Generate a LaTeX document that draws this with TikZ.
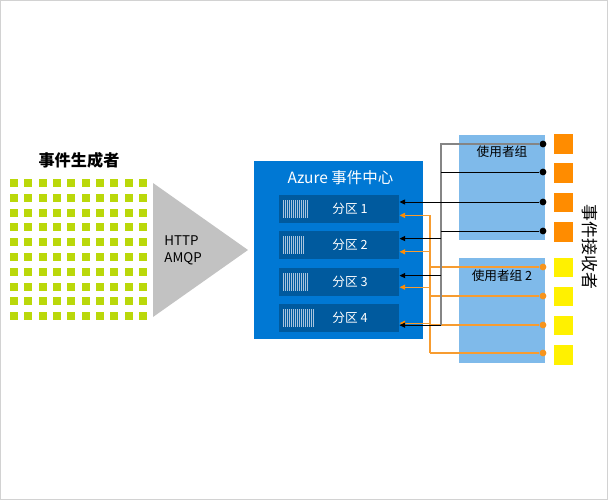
\documentclass[tikz,border=0pt]{standalone}
\usepackage{fontspec}
\setmainfont{Noto Sans CJK SC}
\usetikzlibrary{arrows.meta, positioning, calc}
\definecolor{cframe}{HTML}{D2D2D2}
\definecolor{cgreen}{HTML}{BAD80A}
\definecolor{cgrey}{HTML}{C2C2C2}
\definecolor{chub}{HTML}{0078D4}
\definecolor{cpart}{HTML}{005A9E}
\definecolor{cstripe}{HTML}{A9C4DD}
\definecolor{cgroup}{HTML}{7FBAEA}
\definecolor{corange}{HTML}{FF8C00}
\definecolor{cyellow}{HTML}{FFF100}
\definecolor{cline}{HTML}{F79C30}
\definecolor{cdot}{HTML}{F7941D}
\definecolor{cbus}{HTML}{858585}
\tikzset{
  every picture/.style={line width=0.7pt},
  hub/.style={fill=chub, minimum width=4.225cm, minimum height=4.45cm, inner sep=0pt},
  part/.style={fill=cpart, minimum width=3cm, minimum height=0.7cm, inner sep=0pt},
  stripe/.style={draw=cstripe, line width=0.45pt},
  group/.style={fill=cgroup, minimum width=2.15cm, minimum height=2.625cm, inner sep=0pt},
  recv/.style={fill=#1, minimum size=0.475cm, inner sep=0pt},
  dot/.style={circle, fill=#1, minimum size=0.17cm, inner sep=0pt},
  arr/.style={-{Triangle[length=4pt, width=3.6pt]}},
  bline/.style={draw=black},
  busline/.style={draw=cbus, line width=1pt},
  oline/.style={draw=cline, line width=0.85pt},
  oarr/.style={oline, arrows={-{Triangle[length=4pt, width=3.6pt, color=corange]}}},
  label/.style={text=white, font=\fontsize{9}{11}\selectfont, inner sep=0pt},
  glabel/.style={font=\fontsize{9}{11}\selectfont, inner sep=0pt},
  title/.style={font=\fontsize{11.5}{13}\selectfont\bfseries, inner sep=0pt},
}
\begin{document}
\begin{tikzpicture}[x=0.025cm, y=-0.025cm]
  \useasboundingbox (0,0) rectangle (608,500);
  \draw[cframe] (0.5,0.5) rectangle (607.5,499.5);

  \node[title] (prodtitle) at (79,160) {事件生成者};
  \foreach \c in {0,...,9}
    \foreach \r in {0,...,9}
      \fill[cgreen] (10+14.33*\c,179+14.8*\r) rectangle ++(8,8);

  \fill[cgrey] (153,183) -- (153,317) -- (248,250) -- cycle;
  \node[anchor=west, align=left, inner sep=0pt, font=\fontsize{9.5}{12}\selectfont] (proto) at (164,250.5) {HTTP\\AMQP};

  \node[hub] (hub) at (338.5,250) {};
  \node[text=white, inner sep=0pt, font=\fontsize{11}{12}\selectfont] (hubtitle) at (340.5,178) {Azure 事件中心};
  \foreach \i/\y/\w in {1/209/24, 2/245/20, 3/282/24, 4/318/30} {
    \node[part] (p\i) at (339,\y) {};
    \foreach \s in {0,2,...,\w}
      \draw[stripe] (283+\s,\y-9) -- (283+\s,\y+9);
    \node[label] (t\i) at (350,\y) {分区 \i};
  }
  \foreach \i/\kb/\ko in {1/0.17/-0.16, 2/0.16/-0.17, 3/0.16/-0.13, 4/-0.18/-0.13}
    \path ([yshift=\kb cm]p\i.east) coordinate (k\i)
          ([yshift=\ko cm]p\i.east) coordinate (o\i);

  \node[group] (g1) at (502,187.5) {};
  \node[group] (g2) at (502,310.5) {};
  \node[glabel] (g1t) at (502,152) {使用者组};
  \node[glabel] (g2t) at (502,276) {使用者组 2};

  \foreach \i/\y in {1/144, 2/173, 3/202.5, 4/232}
    \node[recv=corange] (r\i) at (563.5,\y) {};
  \foreach \i/\y in {1/267.5, 2/296.5, 3/325.5, 4/355}
    \node[recv=cyellow] (y\i) at (563.5,\y) {};
  \node[rotate=-90, inner sep=0pt, font=\fontsize{12}{13}\selectfont] (recvtitle) at (590,247) {事件接收者};

  \coordinate (bt) at (441,144);
  \coordinate (ot) at (430,215);

  \foreach \i/\y in {1/144, 2/172, 3/202, 4/231}
    \node[dot=black] (b\i) at (543,\y) {};
  \foreach \i/\y in {1/267, 2/296, 3/325, 4/353}
    \node[dot=cdot] (c\i) at (543,\y) {};

  \draw[oline] (o1 -| ot) -- (c4 -| ot);
  \foreach \i in {1,...,4} {
    \draw[oline] (c\i) -- (c\i -| ot);
    \draw[oarr] (o\i -| ot) -- (o\i);
  }
  \draw[busline] (b1) -- (bt) -- (bt |- k4);
  \draw[bline] (b2) -- (b2 -| bt);
  \draw[bline] (b4) -- (b4 -| bt);
  \draw[bline, arr] (b3) -- (b3 -| k1);
  \foreach \i in {2,3,4}
    \draw[bline, arr] (k\i -| bt) -- (k\i);
\end{tikzpicture}
\end{document}
